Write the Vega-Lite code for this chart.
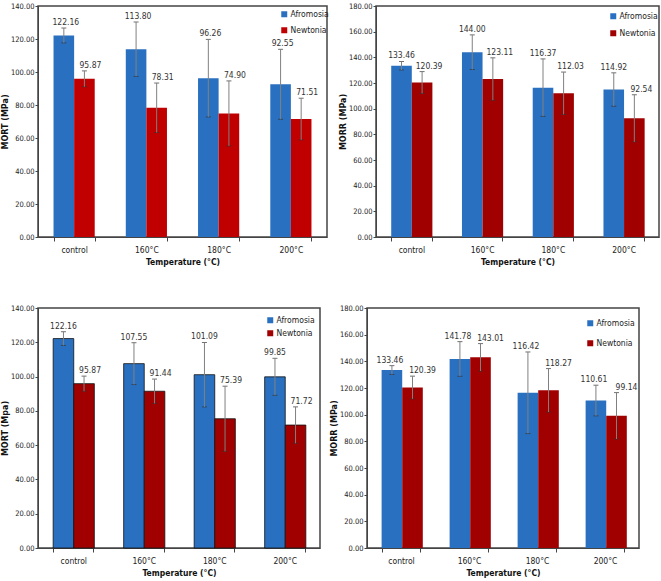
{
  "$schema": "https://vega.github.io/schema/vega-lite/v6.json",
  "padding": {"top": 1, "left": 0, "right": 0, "bottom": 0},
  "background": "white",
  "config": {
    "font": "'DejaVu Sans Condensed', sans-serif",
    "view": {"stroke": "#444", "strokeWidth": 1.5},
    "axis": {
      "labelFontSize": 7.5,
      "labelColor": "#222",
      "domainColor": "#444",
      "tickColor": "#444",
      "tickSize": 3,
      "labelPadding": 1,
      "titleFontSize": 8.5,
      "titleFontWeight": "bold",
      "titleColor": "#111",
      "grid": false,
      "labelOverlap": false
    },
    "axisY": {"titleX": -29, "titleFontSize": 8, "titleFont": "'DejaVu Sans', sans-serif"},
    "axisX": {"labelAngle": 0, "tickBand": "extent", "tickSize": 4, "titlePadding": 4, "labelPadding": 4, "labelFontSize": 8.5},
    "legend": {
      "orient": "none",
      "title": null,
      "symbolType": "square",
      "symbolSize": 36,
      "symbolStrokeWidth": 0,
      "labelFontSize": 8.5,
      "labelColor": "#222",
      "rowPadding": 8,
      "labelOffset": 2
    },
    "text": {"fontSize": 8.5, "color": "#333"}
  },
  "datasets": {
    "A": [
      {"temp": "control", "species": "Afromosia", "value": 122.16, "lo": 117.66, "hi": 126.66},
      {"temp": "control", "species": "Newtonia", "value": 95.87, "lo": 91.07, "hi": 100.67},
      {"temp": "160°C", "species": "Afromosia", "value": 113.80, "lo": 97.30, "hi": 130.30},
      {"temp": "160°C", "species": "Newtonia", "value": 78.31, "lo": 63.31, "hi": 93.31},
      {"temp": "180°C", "species": "Afromosia", "value": 96.26, "lo": 72.76, "hi": 119.76},
      {"temp": "180°C", "species": "Newtonia", "value": 74.90, "lo": 55.20, "hi": 94.60},
      {"temp": "200°C", "species": "Afromosia", "value": 92.55, "lo": 71.35, "hi": 113.75},
      {"temp": "200°C", "species": "Newtonia", "value": 71.51, "lo": 58.91, "hi": 84.11}
    ],
    "B": [
      {"temp": "control", "species": "Afromosia", "value": 133.46, "lo": 130.16, "hi": 136.76},
      {"temp": "control", "species": "Newtonia", "value": 120.39, "lo": 111.89, "hi": 128.89},
      {"temp": "160°C", "species": "Afromosia", "value": 144.00, "lo": 130.50, "hi": 157.50},
      {"temp": "160°C", "species": "Newtonia", "value": 123.11, "lo": 106.61, "hi": 139.61},
      {"temp": "180°C", "species": "Afromosia", "value": 116.37, "lo": 93.97, "hi": 138.77},
      {"temp": "180°C", "species": "Newtonia", "value": 112.03, "lo": 95.53, "hi": 128.53},
      {"temp": "200°C", "species": "Afromosia", "value": 114.92, "lo": 101.92, "hi": 127.92},
      {"temp": "200°C", "species": "Newtonia", "value": 92.54, "lo": 74.14, "hi": 110.94}
    ],
    "C": [
      {"temp": "control", "species": "Afromosia", "value": 122.16, "lo": 118.16, "hi": 126.16},
      {"temp": "control", "species": "Newtonia", "value": 95.87, "lo": 91.47, "hi": 100.27},
      {"temp": "160°C", "species": "Afromosia", "value": 107.55, "lo": 95.35, "hi": 119.75},
      {"temp": "160°C", "species": "Newtonia", "value": 91.44, "lo": 84.34, "hi": 98.54},
      {"temp": "180°C", "species": "Afromosia", "value": 101.09, "lo": 82.29, "hi": 119.89},
      {"temp": "180°C", "species": "Newtonia", "value": 75.39, "lo": 56.39, "hi": 94.39},
      {"temp": "200°C", "species": "Afromosia", "value": 99.85, "lo": 89.05, "hi": 110.65},
      {"temp": "200°C", "species": "Newtonia", "value": 71.72, "lo": 61.12, "hi": 82.32}
    ],
    "D": [
      {"temp": "control", "species": "Afromosia", "value": 133.46, "lo": 130.16, "hi": 136.76},
      {"temp": "control", "species": "Newtonia", "value": 120.39, "lo": 111.89, "hi": 128.89},
      {"temp": "160°C", "species": "Afromosia", "value": 141.78, "lo": 128.78, "hi": 154.78},
      {"temp": "160°C", "species": "Newtonia", "value": 143.01, "lo": 132.71, "hi": 153.31},
      {"temp": "180°C", "species": "Afromosia", "value": 116.42, "lo": 85.82, "hi": 147.02},
      {"temp": "180°C", "species": "Newtonia", "value": 118.27, "lo": 101.97, "hi": 134.57},
      {"temp": "200°C", "species": "Afromosia", "value": 110.61, "lo": 99.11, "hi": 122.11},
      {"temp": "200°C", "species": "Newtonia", "value": 99.14, "lo": 81.74, "hi": 116.54}
    ]
  },
  "resolve": {"scale": {"color": "independent", "y": "independent", "x": "independent"}, "legend": {"color": "independent"}},
  "spacing": 36,
  "vconcat": [
    {
      "spacing": 8,
      "resolve": {"scale": {"color": "independent", "y": "independent", "x": "independent"}, "legend": {"color": "independent"}},
      "hconcat": [
        {
          "data": {"name": "A"},
          "width": 289, "height": 231,
          "encoding": {
            "x": {"field": "temp", "type": "nominal", "sort": ["control", "160°C", "180°C", "200°C"], "scale": {"paddingInner": 0.43, "paddingOuter": 0.215}, "title": "Temperature (°C)"},
            "xOffset": {"field": "species", "type": "nominal", "sort": ["Afromosia", "Newtonia"]}
          },
          "layer": [
            {"mark": {"type": "bar"}, "encoding": {
              "y": {"field": "value", "type": "quantitative", "scale": {"domain": [0, 140]}, "axis": {"values": [0, 20, 40, 60, 80, 100, 120, 140], "format": ".2f"}, "title": "MORT (MPa)"},
              "color": {"field": "species", "type": "nominal", "scale": {"domain": ["Afromosia", "Newtonia"], "range": ["#2a70c0", "#c00000"]}, "legend": {"legendX": 242, "legendY": 4, "rowPadding": 7}}}},
            {"mark": {"type": "errorbar", "color": "#808080", "thickness": 1, "ticks": {"size": 5, "color": "#333"}}, "encoding": {
              "y": {"field": "lo", "type": "quantitative", "axis": {"values": [0, 20, 40, 60, 80, 100, 120, 140], "format": ".2f"}, "title": "MORT (MPa)"}, "y2": {"field": "hi"}}},
            {"transform": [{"filter": "datum.species == 'Afromosia'"}], "mark": {"type": "text", "dy": -6, "dx": 2}, "encoding": {
              "y": {"field": "hi", "type": "quantitative", "axis": {"values": [0, 20, 40, 60, 80, 100, 120, 140], "format": ".2f"}, "title": "MORT (MPa)"}, "text": {"field": "value", "type": "quantitative", "format": ".2f"}}},
            {"transform": [{"filter": "datum.species == 'Newtonia'"}], "mark": {"type": "text", "dy": -6, "dx": 6}, "encoding": {
              "y": {"field": "hi", "type": "quantitative", "axis": {"values": [0, 20, 40, 60, 80, 100, 120, 140], "format": ".2f"}, "title": "MORT (MPa)"}, "text": {"field": "value", "type": "quantitative", "format": ".2f"}}}
          ]
        },
        {
          "data": {"name": "B"},
          "width": 283, "height": 231,
          "encoding": {
            "x": {"field": "temp", "type": "nominal", "sort": ["control", "160°C", "180°C", "200°C"], "scale": {"paddingInner": 0.43, "paddingOuter": 0.215}, "title": "Temperature (°C)"},
            "xOffset": {"field": "species", "type": "nominal", "sort": ["Afromosia", "Newtonia"]}
          },
          "layer": [
            {"mark": {"type": "bar"}, "encoding": {
              "y": {"field": "value", "type": "quantitative", "scale": {"domain": [0, 180]}, "axis": {"values": [0, 20, 40, 60, 80, 100, 120, 140, 160, 180], "format": ".2f"}, "title": "MORR (MPa)"},
              "color": {"field": "species", "type": "nominal", "scale": {"domain": ["Afromosia", "Newtonia"], "range": ["#2a70c0", "#a00000"]}, "legend": {"legendX": 233, "legendY": 6, "rowPadding": 8}}}},
            {"mark": {"type": "errorbar", "color": "#808080", "thickness": 1, "ticks": {"size": 5, "color": "#333"}}, "encoding": {
              "y": {"field": "lo", "type": "quantitative", "axis": {"values": [0, 20, 40, 60, 80, 100, 120, 140, 160, 180], "format": ".2f"}, "title": "MORR (MPa)"}, "y2": {"field": "hi"}}},
            {"transform": [{"filter": "datum.species == 'Afromosia'"}], "mark": {"type": "text", "dy": -6}, "encoding": {
              "y": {"field": "hi", "type": "quantitative", "axis": {"values": [0, 20, 40, 60, 80, 100, 120, 140, 160, 180], "format": ".2f"}, "title": "MORR (MPa)"}, "text": {"field": "value", "type": "quantitative", "format": ".2f"}}},
            {"transform": [{"filter": "datum.species == 'Newtonia'"}], "mark": {"type": "text", "dy": -6, "dx": 7}, "encoding": {
              "y": {"field": "hi", "type": "quantitative", "axis": {"values": [0, 20, 40, 60, 80, 100, 120, 140, 160, 180], "format": ".2f"}, "title": "MORR (MPa)"}, "text": {"field": "value", "type": "quantitative", "format": ".2f"}}}
          ]
        }
      ]
    },
    {
      "spacing": 8,
      "resolve": {"scale": {"color": "independent", "y": "independent", "x": "independent"}, "legend": {"color": "independent"}},
      "hconcat": [
        {
          "data": {"name": "C"},
          "width": 282, "height": 240,
          "encoding": {
            "x": {"field": "temp", "type": "nominal", "sort": ["control", "160°C", "180°C", "200°C"], "scale": {"paddingInner": 0.43, "paddingOuter": 0.215}, "title": "Temperature (°C)"},
            "xOffset": {"field": "species", "type": "nominal", "sort": ["Afromosia", "Newtonia"]}
          },
          "layer": [
            {"mark": {"type": "bar", "stroke": "#111", "strokeWidth": 0.8}, "encoding": {
              "y": {"field": "value", "type": "quantitative", "scale": {"domain": [0, 140]}, "axis": {"values": [0, 20, 40, 60, 80, 100, 120, 140], "format": ".2f"}, "title": "MORT (Mpa)"},
              "color": {"field": "species", "type": "nominal", "scale": {"domain": ["Afromosia", "Newtonia"], "range": ["#2a70c0", "#a00000"]}, "legend": {"legendX": 228, "legendY": 8, "rowPadding": 4}}}},
            {"mark": {"type": "errorbar", "color": "#808080", "thickness": 1, "ticks": {"size": 5, "color": "#333"}}, "encoding": {
              "y": {"field": "lo", "type": "quantitative", "axis": {"values": [0, 20, 40, 60, 80, 100, 120, 140], "format": ".2f"}, "title": "MORT (Mpa)"}, "y2": {"field": "hi"}}},
            {"transform": [{"filter": "datum.species == 'Afromosia'"}], "mark": {"type": "text", "dy": -6}, "encoding": {
              "y": {"field": "hi", "type": "quantitative", "axis": {"values": [0, 20, 40, 60, 80, 100, 120, 140], "format": ".2f"}, "title": "MORT (Mpa)"}, "text": {"field": "value", "type": "quantitative", "format": ".2f"}}},
            {"transform": [{"filter": "datum.species == 'Newtonia'"}], "mark": {"type": "text", "dy": -6, "dx": 6}, "encoding": {
              "y": {"field": "hi", "type": "quantitative", "axis": {"values": [0, 20, 40, 60, 80, 100, 120, 140], "format": ".2f"}, "title": "MORT (Mpa)"}, "text": {"field": "value", "type": "quantitative", "format": ".2f"}}}
          ]
        },
        {
          "data": {"name": "D"},
          "width": 272, "height": 240,
          "encoding": {
            "x": {"field": "temp", "type": "nominal", "sort": ["control", "160°C", "180°C", "200°C"], "scale": {"paddingInner": 0.43, "paddingOuter": 0.215}, "title": "Temperature (°C)"},
            "xOffset": {"field": "species", "type": "nominal", "sort": ["Afromosia", "Newtonia"]}
          },
          "layer": [
            {"mark": {"type": "bar"}, "encoding": {
              "y": {"field": "value", "type": "quantitative", "scale": {"domain": [0, 180]}, "axis": {"values": [0, 20, 40, 60, 80, 100, 120, 140, 160, 180], "format": ".2f"}, "title": "MORR (MPa)"},
              "color": {"field": "species", "type": "nominal", "scale": {"domain": ["Afromosia", "Newtonia"], "range": ["#2a70c0", "#a00000"]}, "legend": {"legendX": 219, "legendY": 11, "rowPadding": 11}}}},
            {"mark": {"type": "errorbar", "color": "#808080", "thickness": 1, "ticks": {"size": 5, "color": "#333"}}, "encoding": {
              "y": {"field": "lo", "type": "quantitative", "axis": {"values": [0, 20, 40, 60, 80, 100, 120, 140, 160, 180], "format": ".2f"}, "title": "MORR (MPa)"}, "y2": {"field": "hi"}}},
            {"transform": [{"filter": "datum.species == 'Afromosia'"}], "mark": {"type": "text", "dy": -6, "dx": -2}, "encoding": {
              "y": {"field": "hi", "type": "quantitative", "axis": {"values": [0, 20, 40, 60, 80, 100, 120, 140, 160, 180], "format": ".2f"}, "title": "MORR (MPa)"}, "text": {"field": "value", "type": "quantitative", "format": ".2f"}}},
            {"transform": [{"filter": "datum.species == 'Newtonia'"}], "mark": {"type": "text", "dy": -6, "dx": 10}, "encoding": {
              "y": {"field": "hi", "type": "quantitative", "axis": {"values": [0, 20, 40, 60, 80, 100, 120, 140, 160, 180], "format": ".2f"}, "title": "MORR (MPa)"}, "text": {"field": "value", "type": "quantitative", "format": ".2f"}}}
          ]
        }
      ]
    }
  ]
}
